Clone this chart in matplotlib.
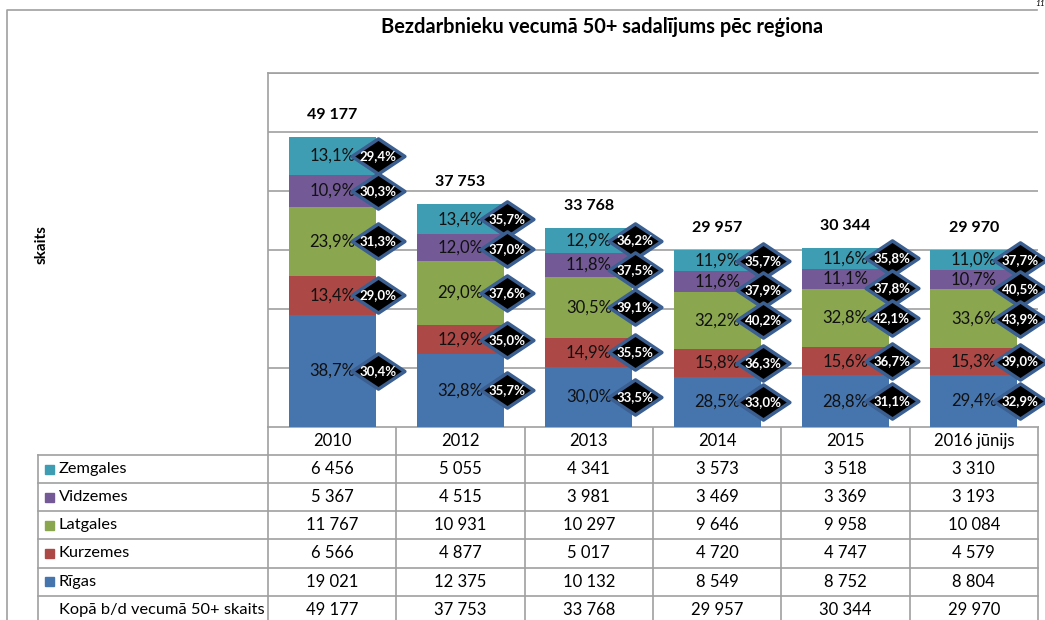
import matplotlib.pyplot as plt
from matplotlib.path import Path
import numpy as np

plt.rcParams['font.family'] = ['Lato', 'DejaVu Sans']

years = ['2010', '2012', '2013', '2014', '2015', '2016 jūnijs']
regions = ['Rīgas', 'Kurzemes', 'Latgales', 'Vidzemes', 'Zemgales']
rigas = [19021, 12375, 10132, 8549, 8752, 8804]
kurzemes = [6566, 4877, 5017, 4720, 4747, 4579]
latgales = [11767, 10931, 10297, 9646, 9958, 10084]
vidzemes = [5367, 4515, 3981, 3469, 3369, 3193]
zemgales = [6456, 5055, 4341, 3573, 3518, 3310]
totals = [49177, 37753, 33768, 29957, 30344, 29970]
# share of 50+ among all unemployed of the region (diamond labels)
share_rigas = [30.4, 35.7, 33.5, 33.0, 31.1, 32.9]
share_kurzemes = [29.0, 35.0, 35.5, 36.3, 36.7, 39.0]
share_latgales = [31.3, 37.6, 39.1, 40.2, 42.1, 43.9]
share_vidzemes = [30.3, 37.0, 37.5, 37.9, 37.8, 40.5]
share_zemgales = [29.4, 35.7, 36.2, 35.7, 35.8, 37.7]

series = [rigas, kurzemes, latgales, vidzemes, zemgales]
shares = [share_rigas, share_kurzemes, share_latgales, share_vidzemes, share_zemgales]
colors = ['#4675AE', '#AC4845', '#8AA64F', '#735A96', '#3F9DB3']

W, H = 1045, 620
fig = plt.figure(figsize=(W / 100, H / 100), dpi=100)

# pixel-space overlay for frame and table
bg = fig.add_axes([0, 0, 1, 1])
bg.set_xlim(0, W)
bg.set_ylim(H, 0)
bg.axis('off')

def fmt(v):
    return f'{v:,}'.replace(',', ' ')

def pct(v):
    return f'{v:.1f}%'.replace('.', ',')

# plot area
px_l, px_r, px_t, px_b = 268, 1038, 73, 427
ax = fig.add_axes([px_l / W, 1 - px_b / H, (px_r - px_l) / W, (px_b - px_t) / H])
ax.set_xlim(-0.5, 5.5)
ax.set_ylim(0, 60000)
ax.set_yticks(np.arange(0, 60001, 10000))
ax.set_xticks([])
ax.tick_params(length=0, labelleft=False)
ax.grid(axis='y', color='#A0A0A0', lw=1.2)
ax.set_axisbelow(True)
for s in ['right', 'bottom']:
    ax.spines[s].set_visible(False)
for s in ['left', 'top']:
    ax.spines[s].set_color('#A0A0A0')
    ax.spines[s].set_linewidth(1.2)

x = np.arange(len(years))
bw = 0.68
bottom = np.zeros(len(years))
mids = []
for vals, col in zip(series, colors):
    vals = np.array(vals, dtype=float)
    ax.bar(x, vals, bw, bottom=bottom, color=col, zorder=2)
    mids.append(bottom + vals / 2)
    for i in range(len(years)):
        ax.text(x[i], bottom[i] + vals[i] / 2, pct(vals[i] / totals[i] * 100),
                ha='center', va='center', fontsize=12, color='#111111', zorder=3)
    bottom += vals

for i in range(len(years)):
    ax.annotate(fmt(totals[i]), (x[i], totals[i]), xytext=(0, 16),
                textcoords='offset points', ha='center', va='center',
                fontsize=11.5, fontweight='bold')

# diamonds, pushed down so they do not overlap
diamond = Path([(-1.5, 0), (0, 1), (1.5, 0), (0, -1), (-1.5, 0)],
               [Path.MOVETO, Path.LINETO, Path.LINETO, Path.LINETO, Path.CLOSEPOLY])
gap = 5000
for i in range(len(years)):
    prev = None
    for k in range(len(series) - 1, -1, -1):
        y = mids[k][i]
        if prev is not None and y > prev - gap:
            y = prev - gap
        prev = y
        xd = x[i] + bw / 2 + 0.02
        ax.plot(xd, y, marker=diamond, ms=38, mfc='black',
                mec='#3B5F90', mew=2.5, zorder=4, clip_on=False)
        ax.text(xd, y, pct(shares[k][i]), ha='center', va='center',
                fontsize=9.5, fontweight='bold', color='white', zorder=5)

# outer frame
bg.plot([7, 7, 1037], [H + 5, 10, 10], color='#A0A0A0', lw=1.2)
bg.text(1045, 3, '11', ha='right', va='center', fontsize=6, style='italic')

fig.text(602 / W, 1 - 27 / H, 'Bezdarbnieku vecumā 50+ sadalījums pēc reģiona',
         ha='center', va='center', fontsize=14.4, fontweight='bold')
fig.text(42 / W, 1 - 245 / H, 'skaits', ha='center', va='center', rotation=90,
         fontsize=11, fontweight='bold')

# data table
gc = '#A0A0A0'
colw = (px_r - px_l) / len(years)
row0 = 427
rowh = 28.1
lab_l = 38
row_tops = [row0 + rowh * (r + 1) for r in range(6)]
for k in range(len(years) + 1):
    bg.plot([px_l + k * colw] * 2, [row0, H + 5], color=gc, lw=1.2)
bg.plot([lab_l, lab_l], [row_tops[0], H + 5], color=gc, lw=1.2)
bg.plot([px_l, px_r], [row0, row0], color=gc, lw=1.2)
for yt in row_tops:
    bg.plot([lab_l, px_r], [yt, yt], color=gc, lw=1.2)

for j, yr in enumerate(years):
    bg.text(px_l + (j + 0.5) * colw, row0 + rowh / 2, yr, ha='center', va='center', fontsize=12)

table_rows = [('Zemgales', zemgales, colors[4]), ('Vidzemes', vidzemes, colors[3]),
              ('Latgales', latgales, colors[2]), ('Kurzemes', kurzemes, colors[1]),
              ('Rīgas', rigas, colors[0]), ('Kopā b/d vecumā 50+ skaits', totals, None)]
for r, (name, vals, col) in enumerate(table_rows):
    yc = row_tops[r] + rowh / 2
    if col is not None:
        bg.add_patch(plt.Rectangle((45, yc - 4.5), 9, 9, color=col))
    bg.text(59, yc, name, ha='left', va='center', fontsize=11.8)
    for j, v in enumerate(vals):
        bg.text(px_l + (j + 0.5) * colw, yc, fmt(v), ha='center', va='center', fontsize=12)

fig.savefig('out.png', dpi=100)
